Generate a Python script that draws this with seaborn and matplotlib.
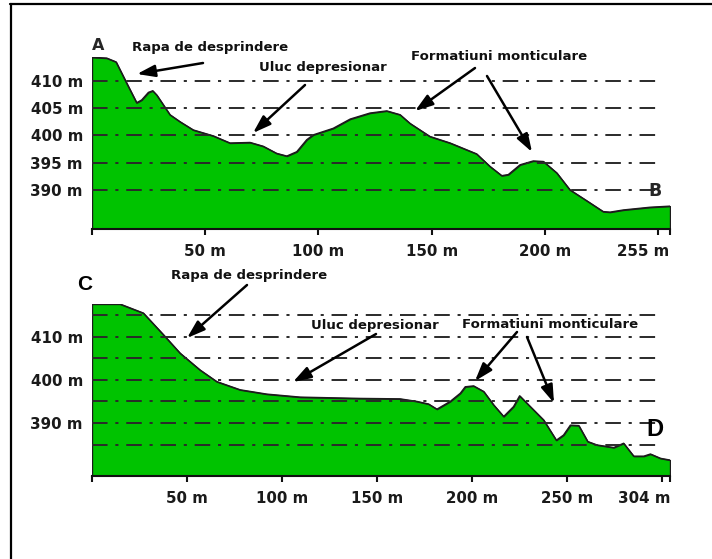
import matplotlib
matplotlib.use("Agg")
import matplotlib.pyplot as plt
import seaborn as sns
import pandas as pd
from matplotlib.lines import Line2D

# ---------------- data ----------------
top_x = [0, 6.5, 10.6, 15.3, 19.7, 21.9, 24.9, 26.8, 28.6, 34.4, 38.9, 44.7, 53.6, 60.9,
         69.8, 75.6, 81.5, 86.0, 90.4, 94.8, 97.7, 106.5, 114, 122.7, 130.1, 136, 140.4,
         149.2, 158.1, 169.8, 175.7, 180.9, 183.8, 189, 194.8, 199.3, 205.2, 211, 218.4,
         225.7, 228.7, 234.6, 246.4, 255.2]
top_y = [414.35, 414.2, 413.5, 409.6, 406.0, 406.5, 407.9, 408.2, 407.4, 403.8, 402.5, 401.0,
         399.9, 398.6, 398.7, 398.0, 396.7, 396.2, 397.0, 399.2, 400.1, 401.3, 403.0, 404.1,
         404.5, 403.8, 402.2, 399.8, 398.6, 396.6, 394.3, 392.6, 392.8, 394.6, 395.3, 395.2,
         393.1, 390.0, 388.0, 386.0, 385.9, 386.3, 386.8, 387.0]

bot_x = [0, 14.7, 27, 37.5, 46.3, 56.8, 65.6, 77.9, 91.9, 109.5, 141, 162, 170.9, 177, 181.4,
         188.4, 193.7, 196.3, 200.7, 206, 211.2, 216.5, 221.7, 224.9, 230.5, 237.5, 244.2, 248,
         251.6, 256, 260.7, 265.6, 274.4, 279.6, 284.9, 290.2, 293.7, 299, 304]
bot_y = [417.6, 417.6, 415.5, 410.5, 406.2, 402.3, 399.6, 397.7, 396.7, 396.0, 395.7, 395.6,
         395.0, 394.4, 393.2, 395.0, 396.9, 398.4, 398.6, 397.3, 394.2, 391.5, 393.8, 396.3,
         393.8, 390.7, 386.0, 387.2, 389.5, 389.4, 385.7, 384.9, 384.3, 385.3, 382.3, 382.3,
         382.8, 381.8, 381.4]

top_grid = [390, 395, 400, 405, 410]
top_ylabels = ["390 m", "395 m", "400 m", "405 m", "410 m"]
top_xticks = [0, 50, 100, 150, 200, 250, 255]
top_xlabels = ["", "50 m", "100 m", "150 m", "200 m", "", "255 m"]
top_base = 382.8
top_ymax = 414.4

bot_grid = [385, 390, 395, 400, 405, 410, 415]
bot_ylabels = ["", "390 m", "", "400 m", "", "410 m", ""]
bot_xticks = [0, 50, 100, 150, 200, 250, 300, 304]
bot_xlabels = ["", "50 m", "100 m", "150 m", "200 m", "250 m", "", "304 m"]
bot_base = 377.7
bot_ymax = 417.6

annot_rapa = "Rapa de desprindere"
annot_uluc = "Uluc depresionar"
annot_form = "Formatiuni monticulare"

# ---------------- style ----------------
sns.set_theme(style="white")
plt.rcParams["font.family"] = ["DejaVu Sans"]

W, H = 712, 559
fig = plt.figure(figsize=(W / 100, H / 100), dpi=100)
fig.patch.set_facecolor("white")

def P(x, y):
    return (x / W, 1 - y / H)

GREEN = "#00c300"
GRID_LS = (0, (8, 4, 1.6, 4))


def panel(rect, xs, ys, base, ymax, grid, ylabels, xticks, xlabels):
    ax = fig.add_axes(rect)
    df = pd.DataFrame({"x": xs, "y": ys})
    ax.fill_between(df["x"], df["y"], base, color=GREEN, edgecolor="#1c1c1c",
                    linewidth=1.0, zorder=2)
    sns.lineplot(data=df, x="x", y="y", ax=ax, color="#1c1c1c", linewidth=1.0,
                 zorder=2.5, estimator=None, sort=False)
    for g in grid:
        ax.axhline(g, xmin=0, xmax=0.983, color="#2a2a2a", lw=1.4, ls=GRID_LS, zorder=3)
    ax.set_xlim(0, xs[-1])
    ax.set_ylim(base, ymax)
    ax.set_xlabel("")
    ax.set_ylabel("")
    ax.set_yticks(grid)
    ax.set_yticklabels(ylabels, fontsize=10.8, fontweight="bold", color="#1a1a1a")
    ax.set_xticks(xticks)
    ax.set_xticklabels(xlabels, fontsize=10.8, fontweight="bold", color="#1a1a1a")
    ax.tick_params(axis="y", length=0, pad=6.5)
    ax.tick_params(axis="x", direction="out", length=4, width=1.5, color="#111111",
                   pad=7, bottom=True)
    last = ax.get_xticklabels()[-1]
    last.set_ha("right")
    for s in ["left", "top", "right"]:
        ax.spines[s].set_visible(False)
    ax.spines["bottom"].set_color("#111111")
    ax.spines["bottom"].set_linewidth(1.5)
    ax.patch.set_alpha(0)
    ax.grid(False)
    return ax


ax1 = panel([92 / W, 1 - 229 / H, 578 / W, 172 / H], top_x, top_y, top_base, top_ymax,
            top_grid, top_ylabels, top_xticks, top_xlabels)
ax2 = panel([92 / W, 1 - 476 / H, 578 / W, 172 / H], bot_x, bot_y, bot_base, bot_ymax,
            bot_grid, bot_ylabels, bot_xticks, bot_xlabels)

# ---------------- annotations ----------------
TXT = dict(fontsize=9.5, fontweight="bold", color="#111111", ha="center", va="center")
ARW = dict(arrowstyle="-|>,head_length=0.9,head_width=0.3", color="black", lw=1.8,
           shrinkA=0, shrinkB=0)


def arrow(tail, tip):
    fig.add_artist(matplotlib.patches.FancyArrowPatch(P(*tail), P(*tip),
                   transform=fig.transFigure, mutation_scale=12, **ARW))


# top panel
fig.text(*P(98, 46), "A", fontsize=11.5, fontweight="bold", ha="center", va="center")
fig.text(*P(655, 191), "B", fontsize=12.5, fontweight="bold", ha="center", va="center")
fig.text(*P(210, 48), annot_rapa, **TXT)
fig.text(*P(323, 67), annot_uluc, **TXT)
fig.text(*P(499, 57), annot_form, **TXT)
arrow((203, 63), (137, 74))
arrow((305, 85), (253, 133))
arrow((475, 68), (415, 111))
arrow((487, 76), (532, 152))

# bottom panel
fig.text(*P(85, 285), "C", fontsize=15, fontweight="bold", family="Liberation Sans",
         ha="center", va="center", color="black")
fig.text(*P(655, 429), "D", fontsize=17, fontweight="bold", family="Liberation Sans",
         ha="center", va="center", color="black")
fig.text(*P(249, 275), annot_rapa, **TXT)
fig.text(*P(375, 325), annot_uluc, **TXT)
fig.text(*P(550, 324), annot_form, **TXT)
arrow((247, 285), (187, 338))
arrow((376, 334), (293, 382))
arrow((517, 332), (475, 381))
arrow((527, 337), (554, 403))

# frame lines (left and top)
fig.add_artist(Line2D([11 / W, 11 / W], [0, 1 - 3.5 / H], transform=fig.transFigure,
                      color="black", lw=1.6))
fig.add_artist(Line2D([10.4 / W, 1], [1 - 3.5 / H, 1 - 3.5 / H], transform=fig.transFigure,
                      color="black", lw=1.6))

fig.savefig("out.png", dpi=100)
